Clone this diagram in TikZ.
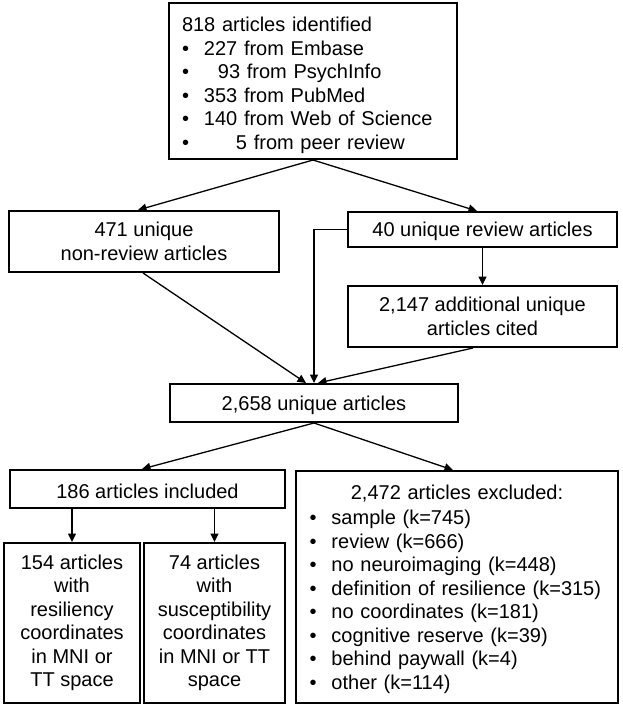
\documentclass[tikz,border=0pt]{standalone}
\usepackage{fontspec}
\setmainfont{Liberation Sans}
\usetikzlibrary{arrows.meta,calc}
\tikzset{
  box/.style={draw=black, line width=2pt, inner sep=0pt, font=\fontsize{20}{23.5}\selectfont, align=center,
    execute at begin node={\rule{0pt}{18.7pt}}},
  conn/.style={line width=1.3pt, -{Triangle[length=8.5pt,width=8pt]}}
}
\newcommand{\bul}{\makebox[22pt][l]{•}}
\begin{document}
\begin{tikzpicture}[x=1pt,y=-1pt]
\useasboundingbox (0,0) rectangle (623,709);
% boxes
\node[box, minimum width=288pt, minimum height=156pt, text width=262pt, align=left,
      execute at begin node={\rule{0pt}{23.1pt}}] (top) at (313,81)
 {818 articles identified\\
  \bul 227 from Embase\\
  \bul\hspace{14pt}93 from PsychInfo\\
  \bul 353 from PubMed\\
  \bul 140 from Web of Science\\
  \bul\hspace{32pt}5 from peer review};
\node[box, minimum width=270pt, minimum height=61pt] (nonrev) at (144,241.5) {471 unique\\non-review articles};
\node[box, minimum width=269pt, minimum height=35pt] (rev) at (482.5,229.5) {40 unique review articles};
\node[box, minimum width=269pt, minimum height=61pt] (cited) at (482.5,316.5) {2,147 additional unique\\articles cited};
\node[box, minimum width=288pt, minimum height=38pt] (uniq) at (314,403) {2,658 unique articles};
\node[box, minimum width=275pt, minimum height=38pt] (incl) at (147.5,489) {186 articles included};
\node[box, minimum width=136pt, minimum height=160pt] (resil) at (72,623)
 {154 articles\\with\\resiliency\\coordinates\\in MNI or\\TT space};
\node[box, minimum width=141pt, minimum height=160pt] (susc) at (214.5,623)
 {74 articles\\with\\susceptibility\\coordinates\\in MNI or TT\\space};
\node[box, minimum width=322pt, minimum height=232pt, text width=295pt, align=left] (excl) at (457,587)
 {\makebox[\linewidth][c]{2,472 articles excluded:}\\[2pt]
  \bul sample (k=745)\\
  \bul review (k=666)\\
  \bul no neuroimaging (k=448)\\
  \bul definition of resilience (k=315)\\
  \bul no coordinates (k=181)\\
  \bul cognitive reserve (k=39)\\
  \bul behind paywall (k=4)\\
  \bul other (k=114)};
% connectors
\draw[conn] (top.south) -- ([xshift=-6pt]nonrev.north);
\draw[conn] (top.south) -- ([xshift=-5.5pt]rev.north);
\draw[conn] (rev.west) -| (uniq.north);
\draw[conn] (rev.south) -- (cited.north);
\draw[conn] ([xshift=-1pt]nonrev.south) -- ([xshift=-8pt]uniq.north);
\draw[conn] ([xshift=-9.5pt]cited.south) -- ([xshift=4pt]uniq.north);
\draw[conn] (uniq.south) -- ([xshift=-5.5pt]incl.north);
\draw[conn] (uniq.south) -- ([xshift=-4pt]excl.north);
\draw[conn] (incl.south -| resil.north) -- (resil.north);
\draw[conn] (incl.south -| susc.north) -- (susc.north);
\end{tikzpicture}
\end{document}
